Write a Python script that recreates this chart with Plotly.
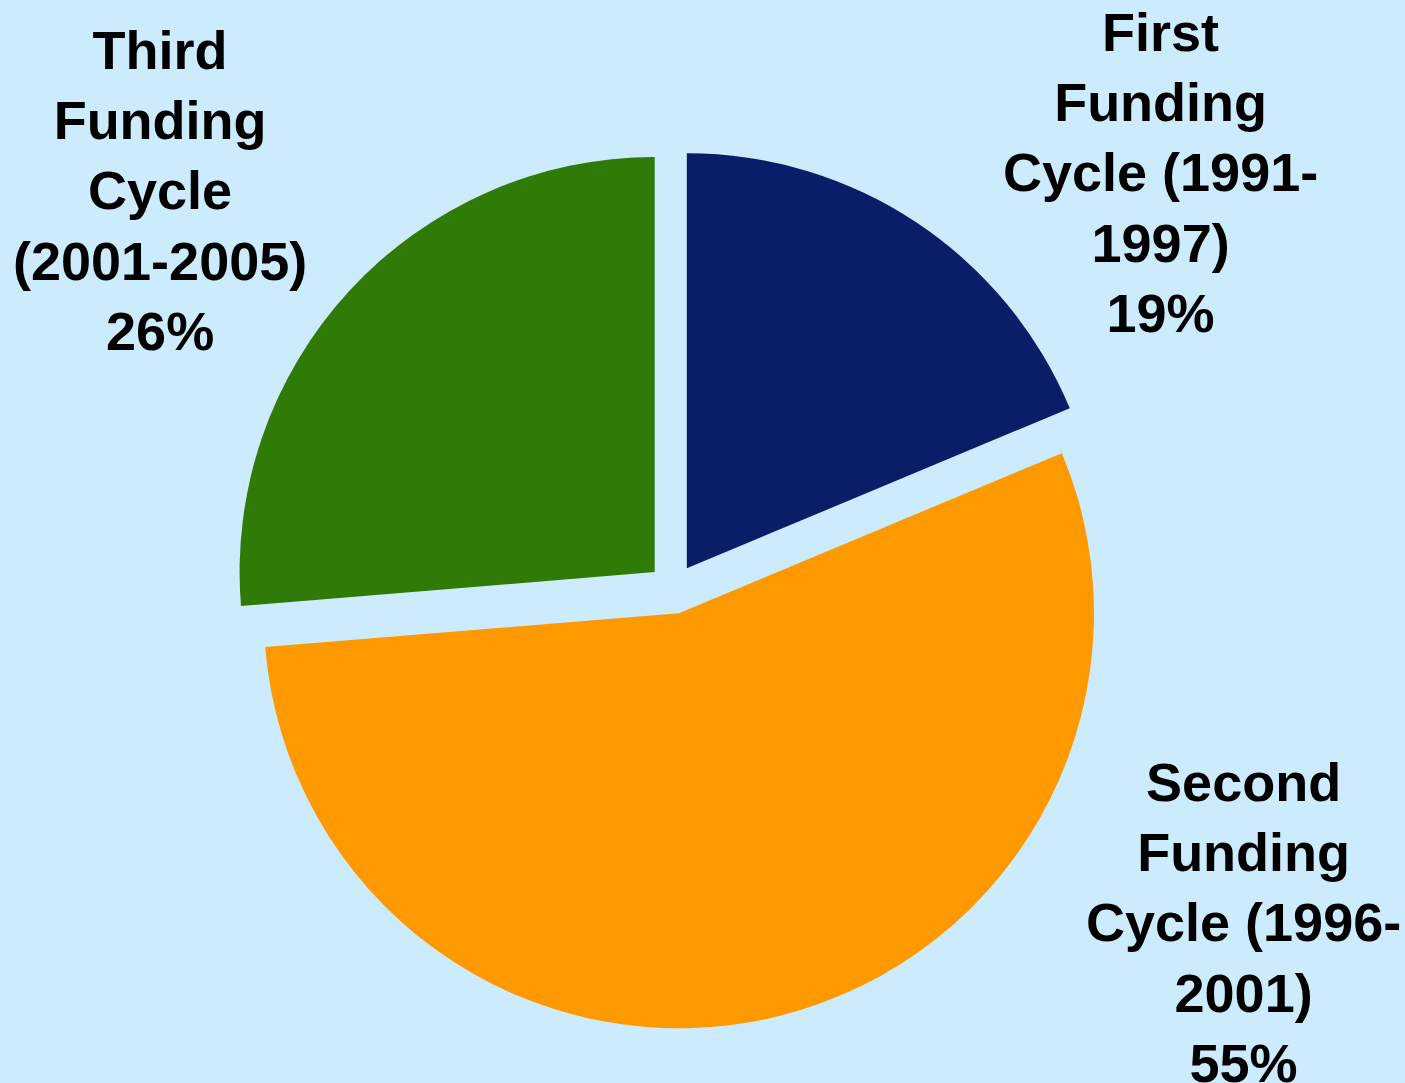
import plotly.graph_objects as go

labels = ["First Funding Cycle (1991-1997)", "Second Funding Cycle (1996-2001)", "Third Funding Cycle (2001-2005)"]
label_lines = ["First<br>Funding<br>Cycle (1991-<br>1997)", "Second<br>Funding<br>Cycle (1996-<br>2001)", "Third<br>Funding<br>Cycle<br>(2001-2005)"]
values = [18.7, 55.0, 26.3]
colors = ["#081E68", "#FF9900", "#307A08"]

W, H = 1405, 1083
label_pos = [(1160, 172), (1243, 922), (160, 191)]

fig = go.Figure(go.Pie(
    labels=labels, values=values, sort=False, direction="clockwise", rotation=0,
    marker=dict(colors=colors, line=dict(width=0)),
    pull=[0.06, 0.06, 0.06], textinfo="none", hoverinfo="label+percent",
    domain=dict(x=[233 / W, 1113 / W], y=[(H - 1029) / H, (H - 149) / H]),
    showlegend=False,
))

total = sum(values)
for txt, v, (px, py) in zip(label_lines, values, label_pos):
    fig.add_annotation(
        x=px / W, y=1 - py / H, xref="paper", yref="paper",
        text=f"{txt}<br>{round(100 * v / total)}%", showarrow=False,
        xanchor="center", yanchor="middle", align="center",
        font=dict(family="Liberation Sans", size=54, color="black", weight="bold"),
    )

fig.update_layout(
    width=W, height=H, margin=dict(l=0, r=0, t=0, b=0),
    paper_bgcolor="#CCEBFC", plot_bgcolor="#CCEBFC",
)
fig.write_html("out.html", config={"displayModeBar": False},
               post_script="document.body.style.margin='0';document.body.style.overflow='hidden';")
